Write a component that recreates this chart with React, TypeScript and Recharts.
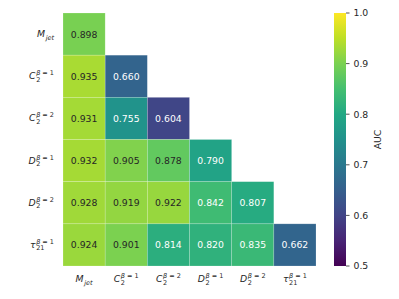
import React from 'react';
import { ScatterChart, Scatter, XAxis, YAxis, BarChart, Bar } from 'recharts';

// feature labels (rows and columns share them)
type MathLab = { base: string; sub?: string; supGreek?: string; supRest?: string };
const featureLabels: MathLab[] = [
  { base: 'M', sub: 'jet' },
  { base: 'C', sub: '2', supGreek: 'β', supRest: ' = 1' },
  { base: 'C', sub: '2', supGreek: 'β', supRest: ' = 2' },
  { base: 'D', sub: '2', supGreek: 'β', supRest: ' = 1' },
  { base: 'D', sub: '2', supGreek: 'β', supRest: ' = 2' },
  { base: 'τ', sub: '21', supGreek: 'β', supRest: ' = 1' },
];

// AUC values, lower triangle, one array per row
const mJetRow = [0.898];
const c2b1Row = [0.935, 0.66];
const c2b2Row = [0.931, 0.755, 0.604];
const d2b1Row = [0.932, 0.905, 0.878, 0.79];
const d2b2Row = [0.928, 0.919, 0.922, 0.842, 0.807];
const tau21Row = [0.924, 0.901, 0.814, 0.82, 0.835, 0.662];

const colorbarTicks = [0.5, 0.6, 0.7, 0.8, 0.9, 1.0];
const vmin = 0.5;
const vmax = 1.0;

const rows = [mJetRow, c2b1Row, c2b2Row, d2b1Row, d2b2Row, tau21Row];
const cells = rows.flatMap((r, i) => r.map((v, j) => ({ x: j, y: i, v })));
const indexTicks = featureLabels.map((_, i) => i);

const VIRIDIS = ['#440154', '#482475', '#414487', '#355f8d', '#2a788e', '#21918c', '#22a884', '#44bf70', '#7ad151', '#bddf26', '#fde725'];

const hex = (h: string) => [1, 3, 5].map((k) => parseInt(h.slice(k, k + 2), 16));

function viridis(t: number): number[] {
  const c = Math.max(0, Math.min(1, t)) * (VIRIDIS.length - 1);
  const i = Math.min(Math.floor(c), VIRIDIS.length - 2);
  const f = c - i;
  const a = hex(VIRIDIS[i]);
  const b = hex(VIRIDIS[i + 1]);
  return a.map((av, k) => Math.round(av + (b[k] - av) * f));
}

function luminance(rgb: number[]) {
  const lin = rgb.map((c) => {
    const s = c / 255;
    return s <= 0.03928 ? s / 12.92 : Math.pow((s + 0.055) / 1.055, 2.4);
  });
  return 0.2126 * lin[0] + 0.7152 * lin[1] + 0.0722 * lin[2];
}

const FONT = 'DejaVu Sans';
const TXT = '#262626';
const FS = 9.3;
const SS = 6.5;

let ctx: CanvasRenderingContext2D | null = null;
function measure(s: string, font: string) {
  if (!ctx) ctx = document.createElement('canvas').getContext('2d');
  if (!ctx) return s.length * 5;
  ctx.font = font;
  return ctx.measureText(s).width;
}

function MathText({ x, y, lab, anchor }: { x: number; y: number; lab: MathLab; anchor: 'end' | 'middle' }) {
  const baseW = measure(lab.base, `italic ${FS}px "${FONT}"`);
  const subItalic = lab.sub === 'jet';
  const subW = lab.sub ? measure(lab.sub, `${subItalic ? 'italic ' : ''}${SS}px "${FONT}"`) : 0;
  const supW = lab.supGreek
    ? measure(lab.supGreek, `italic ${SS}px "${FONT}"`) + measure(lab.supRest || '', `${SS}px "${FONT}"`)
    : 0;
  const total = baseW + 0.6 + Math.max(subW, supW);
  const x0 = anchor === 'end' ? x - total : x - total / 2;
  const xs = x0 + baseW + 0.6;
  return (
    <g fill={TXT} fontFamily={FONT}>
      <text x={x0} y={y} fontSize={FS} fontStyle="italic">{lab.base}</text>
      {lab.sub && (
        <text x={xs} y={y + 2.5} fontSize={SS} fontStyle={subItalic ? 'italic' : 'normal'}>{lab.sub}</text>
      )}
      {lab.supGreek && (
        <text x={xs} y={y - 4} fontSize={SS}>
          <tspan fontStyle="italic">{lab.supGreek}</tspan>
          <tspan>{lab.supRest}</tspan>
        </text>
      )}
    </g>
  );
}

const XTick = (p: any) => <MathText x={p.x} y={p.y + 16} lab={featureLabels[p.payload.value]} anchor="middle" />;
const YTick = (p: any) => <MathText x={p.x - 9} y={p.y + 3} lab={featureLabels[p.payload.value]} anchor="end" />;

const W = 330;
const H = 299;
const M = { top: 13, right: 14, bottom: 13, left: 0 };
const Y_W = 63;
const X_H = 20;
const cellW = (W - M.left - M.right - Y_W) / featureLabels.length;
const cellH = (H - M.top - M.bottom - X_H) / featureLabels.length;

const CellShape = (p: any) => {
  const { cx, cy, payload } = p;
  const rgb = viridis((payload.v - vmin) / (vmax - vmin));
  const fill = `rgb(${rgb.join(',')})`;
  const tc = luminance(rgb) > 0.408 ? TXT : '#ffffff';
  return (
    <g>
      <rect x={cx - cellW / 2} y={cy - cellH / 2} width={cellW} height={cellH} fill={fill} stroke="rgba(255,255,255,0.3)" strokeWidth={0.6} />
      <text x={cx} y={cy} textAnchor="middle" dominantBaseline="central" fontSize={FS} fontFamily={FONT} fill={tc}>
        {payload.v.toFixed(3)}
      </text>
    </g>
  );
};

const colorbarData = [{ k: 'auc', range: [vmin, vmax] }];

export default function App() {
  return (
    <div style={{ position: 'absolute', left: 0, top: 0, width: 399, height: 299, background: '#fff' }}>
      <div style={{ position: 'absolute', left: 0, top: 0 }}>
        <ScatterChart width={W} height={H} margin={M}>
          <XAxis
            type="number"
            dataKey="x"
            domain={[-0.5, featureLabels.length - 0.5]}
            ticks={indexTicks}
            interval={0}
            height={X_H}
            axisLine={false}
            tickLine={false}
            tickSize={0}
            tickMargin={0}
            tick={XTick}
          />
          <YAxis
            type="number"
            dataKey="y"
            domain={[-0.5, featureLabels.length - 0.5]}
            reversed
            ticks={indexTicks}
            interval={0}
            width={Y_W}
            axisLine={false}
            tickLine={false}
            tickSize={0}
            tickMargin={0}
            tick={YTick}
          />
          <Scatter data={cells} shape={CellShape} isAnimationActive={false} />
        </ScatterChart>
      </div>
      <div style={{ position: 'absolute', left: 334, top: 0 }}>
        <BarChart width={72} height={H} data={colorbarData} margin={{ top: 13, right: 0, bottom: 33, left: 0 }} barCategoryGap={0}>
          <defs>
            <linearGradient id="viridisGrad" x1="0" y1="1" x2="0" y2="0">
              {VIRIDIS.map((c, i) => (
                <stop key={i} offset={i / (VIRIDIS.length - 1)} stopColor={c} />
              ))}
            </linearGradient>
          </defs>
          <XAxis dataKey="k" hide />
          <YAxis
            orientation="right"
            domain={[vmin, vmax]}
            ticks={colorbarTicks}
            interval={0}
            width={60}
            axisLine={false}
            tickSize={3.5}
            tickMargin={4}
            tickLine={{ stroke: TXT, strokeWidth: 0.8 }}
            tickFormatter={(v: number) => v.toFixed(1)}
            tick={{ fontSize: FS, fill: TXT, fontFamily: FONT }}
            label={{ value: 'AUC', angle: -90, position: 'center', dx: 2, fontSize: FS, fill: TXT, fontFamily: FONT }}
          />
          <Bar dataKey="range" fill="url(#viridisGrad)" isAnimationActive={false} />
        </BarChart>
      </div>
    </div>
  );
}
